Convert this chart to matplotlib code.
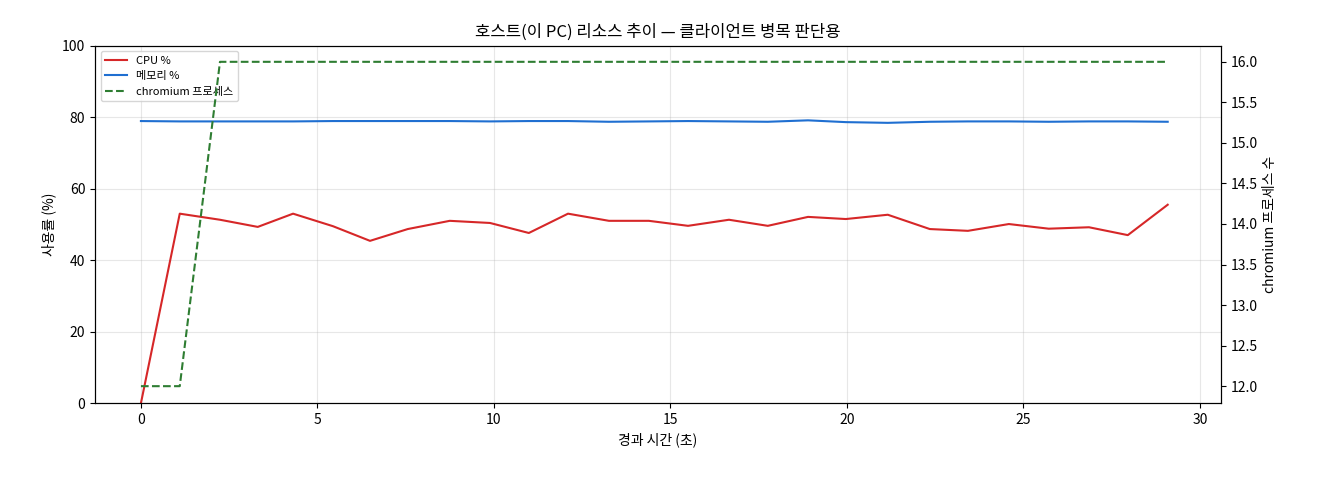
import matplotlib
matplotlib.use("Agg")
import matplotlib.pyplot as plt

plt.rcParams['font.family'] = ['Noto Sans CJK KR', 'DejaVu Sans']

px = [143,182,222,260,295,335,372,410,452,492,531,570,611,651,690,731,770,810,848,890,932,970,1011,1051,1091,1130,1170]
t = [round((p-143)/35.3, 2) for p in px]
cpu = [0,53,51.3,49.3,53,49.5,45.4,48.7,51,50.4,47.6,53,51,51,49.6,51.3,49.6,52.1,51.5,52.7,48.7,48.2,50.1,48.8,49.2,47,55.5]
mem = [78.9,78.8,78.8,78.8,78.8,78.9,78.9,78.9,78.9,78.8,78.9,78.9,78.7,78.8,78.9,78.8,78.7,79.1,78.6,78.4,78.7,78.8,78.8,78.7,78.8,78.8,78.7]
proc = [12,12]+[16]*25

fig, ax = plt.subplots(figsize=(13.2,4.8), dpi=100)
l1, = ax.plot(t, cpu, color='#d62728', lw=1.5, label='CPU %')
l2, = ax.plot(t, mem, color='#1f6fd1', lw=1.5, label='메모리 %')
ax.set_ylim(0,100)
ax.set_xlim(-1.3,30.6)
ax.set_xlabel('경과 시간 (초)')
ax.set_ylabel('사용률 (%)')
ax.grid(alpha=0.3)
ax2 = ax.twinx()
l3, = ax2.plot(t, proc, color='#2e7d32', ls='--', lw=1.5, label='chromium 프로세스')
ax2.set_ylim(11.79,16.2)
ax2.set_ylabel('chromium 프로세스 수')
ax.legend(handles=[l1,l2,l3], loc='upper left', fontsize=8)
ax.set_title('호스트(이 PC) 리소스 추이 — 클라이언트 병목 판단용')
fig.subplots_adjust(left=0.072, right=0.925, top=0.905, bottom=0.16)
fig.savefig('out.png')
